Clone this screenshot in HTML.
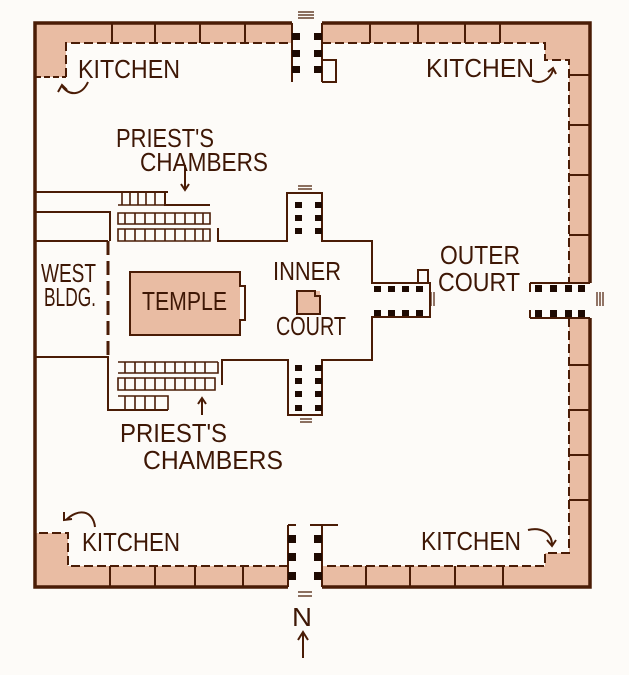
<!DOCTYPE html>
<html><head><meta charset="utf-8"><style>
html,body{margin:0;padding:0;background:#fdfbf8;}
svg{display:block}
text{font-family:"Liberation Sans",sans-serif;fill:#3e1705;font-size:26px;}
</style></head><body>
<svg width="629" height="675" viewBox="0 0 629 675" xmlns="http://www.w3.org/2000/svg">
<g fill="#e9bca3" stroke="none">
<rect x="35" y="23" width="257" height="20"/><rect x="322" y="23" width="268" height="20"/>
<rect x="35" y="23" width="31" height="54"/>
<rect x="545" y="23" width="45" height="37"/>
<rect x="569" y="23" width="21" height="260"/>
<rect x="569" y="318" width="21" height="269"/>
<rect x="35" y="566" width="253" height="21"/><rect x="322" y="566" width="268" height="21"/>
<rect x="35" y="533" width="33" height="54"/>
<rect x="545" y="553" width="45" height="34"/>
<rect x="130" y="272" width="110" height="63"/>
<rect x="297" y="291" width="23" height="23"/>
</g>
<g stroke="#4a1c06" fill="none" stroke-width="2">
<path d="M292 23 H35 V587 H288" stroke-width="3.5"/>
<path d="M322 23 H590 V283" stroke-width="3.5"/>
<path d="M590 318 V587 H322" stroke-width="3.5"/>
<path d="M66 77 V43 H292" stroke-dasharray="9 4"/>
<path d="M322 43 H545 V60 H569 V283" stroke-dasharray="9 4"/>
<path d="M569 318 V553 H545 V566 H322" stroke-dasharray="9 4"/>
<path d="M288 566 H68 V533 H35" stroke-dasharray="9 4"/>
<path d="M35 77 H66" stroke-dasharray="6 3"/>
<path d="M112 23V43 M155 23V43 M200 23V43 M245 23V43 M370 23V43 M418 23V43 M465 23V43 M500 23V43 M569 75H590 M569 125H590 M569 175H590 M569 235H590 M569 365H590 M569 410H590 M569 455H590 M569 500H590 M110 566V587 M155 566V587 M195 566V587 M243 566V587 M366 566V587 M410 566V587 M455 566V587 M503 566V587"/>
<path d="M292 23 V82 M322 23 V82 M322 60 H336 V82 H322"/>
<path d="M298 12H314 M298 15H314 M298 18H314" stroke-width="1.2"/>
<path d="M288 525 V587 M322 525 V587 M310 525 H338 M288 525 H296"/>
<path d="M298 592H312 M298 596H312" stroke-width="1.2"/>
<path d="M530 283 H590 M530 283 V292 M530 318 H590 M530 318 V310"/>
<path d="M597 292V306 M600 292V306 M603 292V306" stroke-width="1.2"/>
<path d="M218 228 V241 H287 V193 H322 V241 H372 V283 H430 V317 H372 V360 H322 V415 H288 V360 H222 V385"/>
<path d="M418 283 V270 H428 V283"/>
<path d="M431 292V306 M434 292V306" stroke-width="1.2"/>
<path d="M298 186H312 M298 189H312" stroke-width="1.2"/>
<path d="M300 419H312 M300 422H312" stroke-width="1.2"/>
<path d="M108 241 V357" stroke-dasharray="14 6" stroke-width="3"/>
<path d="M35 192 H168 M35 212 H110 V241 M35 241 H108 M35 357 H108 V410 H168"/>
<path d="M165 192 V205 H210"/>
<path d="M130 272 H240 V286 H245 V320 H240 V335 H130 Z"/>
<path d="M297 291 H315 V296 H320 V314 H297 Z"/>
<g stroke-width="1.6">
<path d="M118 205 H165 M122 192V205 M130 192V205 M138 192V205 M146 192V205 M155 192V205"/>
<path d="M118 213 H210 V224 H118 Z M118 229 H210 V241 H118 Z"/>
<path d="M125 213V224 M135 213V224 M145 213V224 M155 213V224 M165 213V224 M175 213V224 M185 213V224 M195 213V224 M203 213V224"/>
<path d="M125 229V241 M135 229V241 M145 229V241 M155 229V241 M165 229V241 M175 229V241 M185 229V241 M195 229V241 M203 229V241"/>
<path d="M118 362 H218 M118 373 H218 V362 M118 378 H215 V390 H118 Z"/>
<path d="M125 362V373 M135 362V373 M145 362V373 M155 362V373 M165 362V373 M175 362V373 M185 362V373 M195 362V373 M205 362V373"/>
<path d="M125 378V390 M135 378V390 M145 378V390 M155 378V390 M165 378V390 M175 378V390 M185 378V390 M195 378V390 M205 378V390"/>
<path d="M118 396 H168 V410 M125 396V410 M135 396V410 M145 396V410 M155 396V410"/>
</g>
<path d="M185 165 V190 M181 184 L185 190 L189 184"/>
<path d="M202 415 V398 M198 404 L202 398 L206 404"/>
<path d="M303 658 V632 M298 640 L303 632 L308 640"/>
<path d="M88 82 C82 95 70 97 62 86 M58 92 L62 85 L67 90"/>
<path d="M532 80 C540 85 550 80 553 70 M548 72 L553 68 L556 74"/>
<path d="M95 527 C93 510 78 508 66 520 M64 512 L64 520 L72 519"/>
<path d="M528 530 C540 527 552 532 552 545 M547 540 L552 546 L556 540"/>
</g>
<g fill="#1e0a02">
<rect x="292" y="33" width="8" height="7"/><rect x="292" y="50" width="8" height="7"/><rect x="292" y="66" width="8" height="7"/>
<rect x="314" y="33" width="8" height="7"/><rect x="314" y="50" width="8" height="7"/><rect x="314" y="66" width="8" height="7"/>
<rect x="288" y="535" width="8" height="8"/><rect x="288" y="553" width="8" height="8"/><rect x="288" y="572" width="8" height="8"/>
<rect x="314" y="535" width="8" height="8"/><rect x="314" y="553" width="8" height="8"/><rect x="314" y="572" width="8" height="8"/>
<rect x="535" y="285" width="7" height="7"/><rect x="550" y="285" width="7" height="7"/><rect x="565" y="285" width="7" height="7"/><rect x="578" y="285" width="7" height="7"/>
<rect x="535" y="310" width="7" height="7"/><rect x="550" y="310" width="7" height="7"/><rect x="565" y="310" width="7" height="7"/><rect x="578" y="310" width="7" height="7"/>
<rect x="295" y="202" width="7" height="6"/><rect x="295" y="215" width="7" height="6"/><rect x="295" y="228" width="7" height="6"/>
<rect x="315" y="202" width="7" height="6"/><rect x="315" y="215" width="7" height="6"/><rect x="315" y="228" width="7" height="6"/>
<rect x="295" y="365" width="7" height="6"/><rect x="295" y="378" width="7" height="6"/><rect x="295" y="391" width="7" height="6"/><rect x="295" y="405" width="7" height="6"/>
<rect x="315" y="365" width="7" height="6"/><rect x="315" y="378" width="7" height="6"/><rect x="315" y="391" width="7" height="6"/><rect x="315" y="405" width="7" height="6"/>
<rect x="374" y="286" width="7" height="6"/><rect x="388" y="286" width="7" height="6"/><rect x="402" y="286" width="7" height="6"/><rect x="416" y="286" width="7" height="6"/>
<rect x="374" y="310" width="7" height="6"/><rect x="388" y="310" width="7" height="6"/><rect x="402" y="310" width="7" height="6"/><rect x="416" y="310" width="7" height="6"/>
</g>
<g lengthAdjust="spacingAndGlyphs">
<text x="78" y="78" textLength="102" lengthAdjust="spacingAndGlyphs">KITCHEN</text>
<text x="426" y="77" textLength="108" lengthAdjust="spacingAndGlyphs">KITCHEN</text>
<text x="82" y="551" textLength="98" lengthAdjust="spacingAndGlyphs">KITCHEN</text>
<text x="421" y="550" textLength="100" lengthAdjust="spacingAndGlyphs">KITCHEN</text>
<text x="116" y="147" textLength="98" lengthAdjust="spacingAndGlyphs">PRIEST'S</text>
<text x="140" y="171" textLength="128" lengthAdjust="spacingAndGlyphs">CHAMBERS</text>
<text x="120" y="442" textLength="107" lengthAdjust="spacingAndGlyphs">PRIEST'S</text>
<text x="143" y="469" textLength="140" lengthAdjust="spacingAndGlyphs">CHAMBERS</text>
<text x="41" y="282" font-size="20" textLength="55" lengthAdjust="spacingAndGlyphs">WEST</text>
<text x="44" y="306" font-size="20" textLength="52" lengthAdjust="spacingAndGlyphs">BLDG.</text>
<text x="142" y="310" font-size="23" textLength="85" lengthAdjust="spacingAndGlyphs">TEMPLE</text>
<text x="273" y="280" font-size="20" textLength="68" lengthAdjust="spacingAndGlyphs">INNER</text>
<text x="276" y="335" font-size="20" textLength="70" lengthAdjust="spacingAndGlyphs">COURT</text>
<text x="440" y="264" font-size="29" textLength="80" lengthAdjust="spacingAndGlyphs">OUTER</text>
<text x="438" y="291" font-size="29" textLength="82" lengthAdjust="spacingAndGlyphs">COURT</text>
<text x="292" y="626" font-size="26" textLength="20" lengthAdjust="spacingAndGlyphs">N</text>
</g>
</svg>
</body></html>
